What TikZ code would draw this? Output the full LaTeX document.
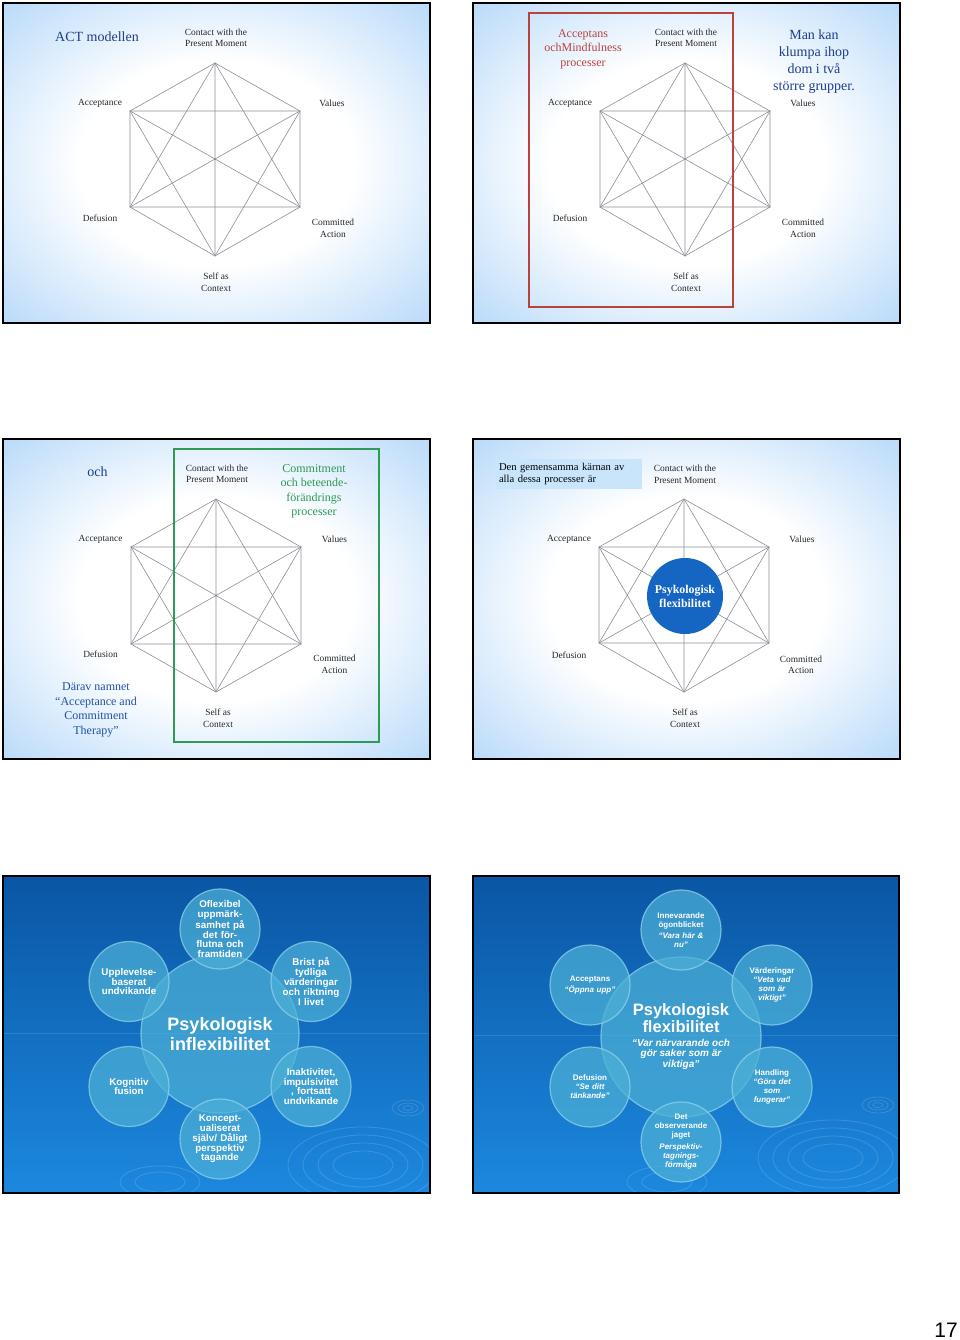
\documentclass[tikz,border=0pt]{standalone}
\usepackage{fontspec}
\setmainfont{Liberation Serif}
\newfontfamily\arialfont{Liberation Sans}
\usepackage{tikz}
\usetikzlibrary{shapes,positioning}

\definecolor{slideblue}{HTML}{9ACAF7}
\definecolor{titleblue}{HTML}{1E3E8E}
\definecolor{namesblue}{HTML}{2350A8}
\definecolor{procred}{HTML}{B8433E}
\definecolor{procgreen}{HTML}{2F9A55}
\definecolor{webgray}{HTML}{8A8F98}
\definecolor{kernelbox}{HTML}{C9E5FC}
\definecolor{coreblue}{HTML}{1565C2}
\definecolor{deepblue}{HTML}{0A56A4}
\definecolor{brightblue}{HTML}{1C88DE}
\definecolor{bubblefill}{HTML}{4DB0D6}
\definecolor{bubblerim}{HTML}{93D5EC}

\pgfdeclareradialshading{slideglow}{\pgfpoint{0bp}{0bp}}{color(0bp)=(white); color(16bp)=(white); color(44bp)=(slideblue); color(50bp)=(slideblue)}

\tikzstyle{slideframe}=[draw=black, line width=2pt]
\tikzstyle{web}=[draw=webgray, line width=0.6pt]
\tikzstyle{corner}=[inner sep=0pt, align=center, text=black!85, font=\fontsize{9.4pt}{11.5pt}\selectfont]
\tikzstyle{heading}=[inner sep=0pt, align=center, text=titleblue, font=\fontsize{14pt}{17pt}\selectfont]
\tikzstyle{group}=[inner sep=0pt, align=center, font=\fontsize{12pt}{14.5pt}\selectfont]
\tikzstyle{bubble}=[circle, minimum size=80pt, inner sep=-10pt, fill=bubblefill, fill opacity=0.72,
        draw=bubblerim, draw opacity=0.7, line width=1.2pt, text opacity=1, text=white,
        text width=60pt, align=center, font=\arialfont\bfseries\fontsize{9.8pt}{9.8pt}\selectfont]
\tikzstyle{hub}=[bubble, minimum size=158pt, text width=124pt, font=\arialfont\bfseries\fontsize{18pt}{20pt}\selectfont]
\tikzstyle{petal}=[bubble, font=\arialfont\bfseries\fontsize{8pt}{9pt}\selectfont]
\tikzstyle{ripple}=[draw=white, draw opacity=0.15, line width=0.8pt]

\begin{document}
\begin{tikzpicture}[x=1pt, y=-1pt]
\useasboundingbox (0,0) rectangle (960,1340);
\fill[white] (0,0) rectangle (960,1340);

% slide 1: ACT modellen
\shade[shading=slideglow] (3,3) rectangle (430,323);
\coordinate (s1t) at (215,63);
\coordinate (s1a) at (130,111);
\coordinate (s1v) at (300,111);
\coordinate (s1d) at (130,207);
\coordinate (s1c) at (300,207);
\coordinate (s1b) at (215,256);
\draw[web] (s1t)--(s1v)--(s1c)--(s1b)--(s1d)--(s1a)--cycle;
\draw[web] (s1t)--(s1d)--(s1c)--cycle;
\draw[web] (s1a)--(s1v)--(s1b)--cycle;
\draw[web] (s1t)--(s1b) (s1a)--(s1c) (s1v)--(s1d);
\node[heading] (s1title) at (97,37) {ACT modellen};
\node[corner] (s1cpm) at (216,38) {Contact with the\\Present Moment};
\node[corner] (s1acc) at (100,103) {Acceptance};
\node[corner] (s1val) at (332,103) {Values};
\node[corner] (s1def) at (100,218) {Defusion};
\node[corner] (s1com) at (333,228.5) {Committed\\Action};
\node[corner] (s1sac) at (216,282) {Self as\\Context};
\draw[slideframe] (3,3) rectangle (430,323);

% slide 2: two groups
\begin{scope}[shift={(470,0)}]
\shade[shading=slideglow] (3,3) rectangle (430,323);
\coordinate (s2t) at (215,63);
\coordinate (s2a) at (130,111);
\coordinate (s2v) at (300,111);
\coordinate (s2d) at (130,207);
\coordinate (s2c) at (300,207);
\coordinate (s2b) at (215,256);
\draw[web] (s2t)--(s2v)--(s2c)--(s2b)--(s2d)--(s2a)--cycle;
\draw[web] (s2t)--(s2d)--(s2c)--cycle;
\draw[web] (s2a)--(s2v)--(s2b)--cycle;
\draw[web] (s2t)--(s2b) (s2a)--(s2c) (s2v)--(s2d);
\draw[procred, line width=1.2pt] (59,13) rectangle (263,307);
\node[group, text=procred] (s2accgrp) at (113,49) {Acceptans\\ochMindfulness\\processer};
\node[heading] (s2clump) at (344,62) {Man kan\\klumpa ihop\\dom i två\\större grupper.};
\node[corner] (s2cpm) at (216,38) {Contact with the\\Present Moment};
\node[corner] (s2acc) at (100,103) {Acceptance};
\node[corner] (s2val) at (333,103) {Values};
\node[corner] (s2def) at (100,218) {Defusion};
\node[corner] (s2com) at (333,228.5) {Committed\\Action};
\node[corner] (s2sac) at (216,282) {Self as\\Context};
\draw[slideframe] (3,3) rectangle (430,323);
\end{scope}

% slide 3: commitment group
\begin{scope}[shift={(0,436)}]
\shade[shading=slideglow] (3,3) rectangle (430,323);
\coordinate (s3t) at (216,63);
\coordinate (s3a) at (131,111);
\coordinate (s3v) at (301,111);
\coordinate (s3d) at (131,208);
\coordinate (s3c) at (301,208);
\coordinate (s3b) at (216,256);
\draw[web] (s3t)--(s3v)--(s3c)--(s3b)--(s3d)--(s3a)--cycle;
\draw[web] (s3t)--(s3d)--(s3c)--cycle;
\draw[web] (s3a)--(s3v)--(s3b)--cycle;
\draw[web] (s3t)--(s3b) (s3a)--(s3c) (s3v)--(s3d);
\draw[procgreen, line width=1.2pt] (174,13) rectangle (379,306);
\node[group, text=procgreen] (s3comgrp) at (314,55.5) {Commitment\\och beteende-\\förändrings\\processer};
\node[heading, text=white, text opacity=0.15] (s3ghosta) at (68,36) {ACT};
\node[heading] (s3och) at (97.5,36) {och};
\node[heading, text=white, text opacity=0.15, anchor=west] (s3ghostb) at (112,36) {modellen};
\node[group, text=namesblue] (s3name) at (96,274) {Därav namnet\\“Acceptance and\\Commitment\\Therapy”};
\node[corner] (s3cpm) at (217,38) {Contact with the\\Present Moment};
\node[corner] (s3acc) at (100.5,103) {Acceptance};
\node[corner] (s3val) at (334.5,103) {Values};
\node[corner] (s3def) at (100.5,218) {Defusion};
\node[corner] (s3com) at (334.5,228.5) {Committed\\Action};
\node[corner] (s3sac) at (218,282) {Self as\\Context};
\draw[slideframe] (3,3) rectangle (430,323);
\end{scope}

% slide 4: the common core
\begin{scope}[shift={(470,436)}]
\shade[shading=slideglow] (3,3) rectangle (430,323);
\coordinate (s4t) at (214,63);
\coordinate (s4a) at (129,111);
\coordinate (s4v) at (299,111);
\coordinate (s4d) at (129,207);
\coordinate (s4c) at (299,207);
\coordinate (s4b) at (214,256);
\draw[web] (s4t)--(s4v)--(s4c)--(s4b)--(s4d)--(s4a)--cycle;
\draw[web] (s4t)--(s4d)--(s4c)--cycle;
\draw[web] (s4a)--(s4v)--(s4b)--cycle;
\draw[web] (s4t)--(s4b) (s4a)--(s4c) (s4v)--(s4d);
\node[circle, fill=coreblue, minimum size=76pt, inner sep=0pt, align=center, text=white,
      font=\bfseries\fontsize{11.9pt}{14pt}\selectfont] (s4core) at (215,160) {Psykologisk\\flexibilitet};
\node[fill=kernelbox, minimum width=146pt, minimum height=30pt, text width=140pt, inner sep=3pt,
      align=left, font=\fontsize{10.6pt}{12.7pt}\selectfont] (s4kernel) at (99,38)
      {Den gemensamma kärnan av\\alla dessa processer är};
\node[corner] (s4cpm) at (215,38.5) {Contact with the\\Present Moment};
\node[corner] (s4acc) at (99,103.5) {Acceptance};
\node[corner] (s4val) at (332,103.5) {Values};
\node[corner] (s4def) at (99,219) {Defusion};
\node[corner] (s4com) at (331,229) {Committed\\Action};
\node[corner] (s4sac) at (215,282) {Self as\\Context};
\draw[slideframe] (3,3) rectangle (430,323);
\end{scope}

% slide 5: psykologisk inflexibilitet
\shade[top color=deepblue, bottom color=brightblue] (3,876) rectangle (430,1193);
\begin{scope}
\clip (3,876) rectangle (430,1193);
\draw[white, opacity=0.12] (3,1033) -- (430,1033);
\draw[ripple] (408,1108) ellipse (16 and 8) ellipse (10 and 5) ellipse (5 and 2.5);
\draw[ripple] (363,1165) ellipse (30 and 14) ellipse (45 and 22) ellipse (60 and 30) ellipse (75 and 38);
\draw[ripple] (160,1182) ellipse (25 and 10) ellipse (40 and 16);
\end{scope}
\node[hub] (inflex) at (220,1034) {Psykologisk\\inflexibilitet};
\node[bubble] (oflex) at (220,929) {Oflexibel\\uppmärk-\\samhet på\\det för-\\flutna och\\framtiden};
\node[bubble] (brist) at (311,981.5) {Brist på\\tydliga\\värderingar\\och riktning\\I livet};
\node[bubble] (inakt) at (311,1086.5) {Inaktivitet,\\impulsivitet\\, fortsatt\\undvikande};
\node[bubble] (koncept) at (220,1139) {Koncept-\\ualiserat\\själv/ Dåligt\\perspektiv\\tagande};
\node[bubble] (kogn) at (129,1086.5) {Kognitiv\\fusion};
\node[bubble] (uppl) at (129,981.5) {Upplevelse-\\baserat\\undvikande};
\draw[slideframe] (3,876) rectangle (430,1193);

% slide 6: psykologisk flexibilitet
\shade[top color=deepblue, bottom color=brightblue] (473,876) rectangle (899,1193);
\begin{scope}
\clip (473,876) rectangle (899,1193);
\draw[white, opacity=0.12] (473,1035) -- (899,1035);
\draw[ripple] (878,1105) ellipse (16 and 8) ellipse (10 and 5) ellipse (5 and 2.5);
\draw[ripple] (833,1158) ellipse (30 and 14) ellipse (45 and 22) ellipse (60 and 30) ellipse (75 and 38);
\draw[ripple] (667,1182) ellipse (25 and 10) ellipse (40 and 16);
\end{scope}
\node[hub, minimum size=160pt, font=\arialfont\bfseries\fontsize{16.5pt}{17pt}\selectfont] (flex) at (681,1037)
      {Psykologisk\\flexibilitet\\[-3pt]{\fontsize{10pt}{10.6pt}\selectfont\spaceskip=0pt\relax\itshape\begin{tabular}[t]{@{}c@{}}“Var närvarande och\\gör saker som är\\viktiga”\end{tabular}}};
\node[petal] (nu) at (681,930) {Innevarande\\ögonblicket\\[2pt]\itshape “Vara här \&\\nu”};
\node[petal] (vard) at (772,985) {Värderingar\\\itshape “Veta vad\\som är\\viktigt”};
\node[petal] (handl) at (772,1087) {Handling\\\itshape “Göra det\\som\\fungerar”};
\node[petal] (jaget) at (681,1142) {Det\\observerande\\jaget\\[3pt]\itshape Perspektiv-\\tagnings-\\förmåga};
\node[petal] (defu) at (590,1087) {Defusion\\\itshape “Se ditt\\tänkande”};
\node[petal] (accp) at (590,985) {Acceptans\\[2pt]\itshape “Öppna upp”};
\draw[slideframe] (473,876) rectangle (899,1193);

\node[font=\arialfont\fontsize{21pt}{21pt}\selectfont] (pageno) at (946,1330) {17};
\end{tikzpicture}
\end{document}
